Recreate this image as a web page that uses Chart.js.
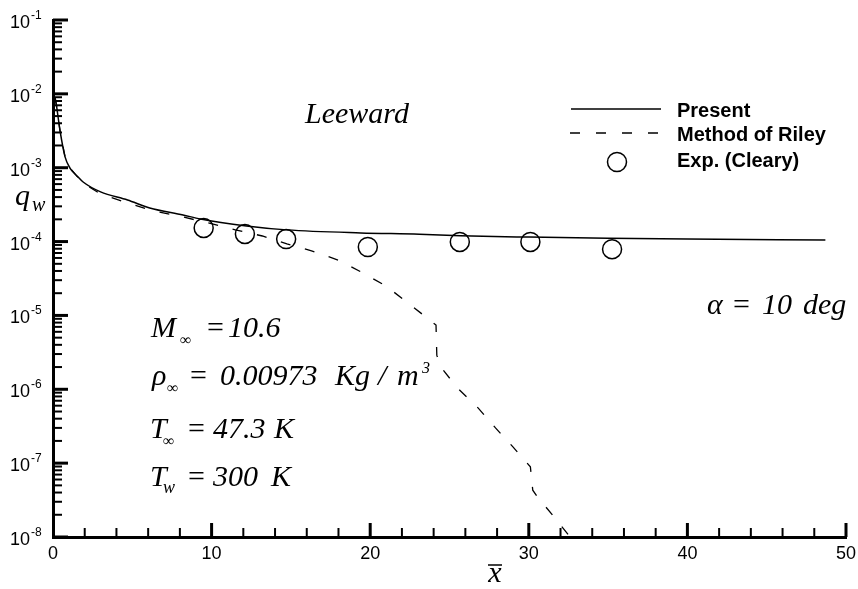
<!DOCTYPE html>
<html>
<head>
<meta charset="utf-8">
<script src="https://cdn.jsdelivr.net/npm/chart.js@4/dist/chart.umd.min.js"></script>
<style>
  html, body { margin: 0; padding: 0; background: #fff; }
  #wrap { width: 858px; height: 589px; }
</style>
</head>
<body>
<div id="wrap"><canvas id="c" width="858" height="589"></canvas></div>
<script>
// heat flux on the leeward side, alpha = 10 deg
var presentX = [0.12, 0.2, 0.44, 0.76, 1.07, 1.5, 1.9, 3.0, 4.7, 6.1, 8.2, 9.3, 12.2, 14.75, 19.4, 23.1, 25.7, 30, 35, 40, 48.7];
var presentY = [9.0e-3, 7.4e-3, 3.2e-3, 1.4e-3, 9.9e-4, 7.8e-4, 6.4e-4, 4.7e-4, 3.65e-4, 2.85e-4, 2.29e-4, 2.02e-4, 1.63e-4, 1.44e-4, 1.31e-4, 1.26e-4, 1.2e-4, 1.15e-4, 1.11e-4, 1.08e-4, 1.05e-4];

var rileyX = [0.12, 0.2, 0.44, 0.76, 1.07, 1.5, 1.9, 3.0, 4.7, 6.1, 8.2, 9.8, 11.5, 13.2, 14.75, 16.3, 18.0, 19.5, 21.0, 22.3, 23.6, 24.15, 24.2, 24.45, 25.5, 26.8, 27.9, 29.0, 30.1, 30.25, 30.5, 31.7, 32.6, 33.0];
var rileyY = [9.0e-3, 7.4e-3, 3.2e-3, 1.4e-3, 9.9e-4, 7.7e-4, 6.2e-4, 4.4e-4, 3.33e-4, 2.68e-4, 2.15e-4, 1.79e-4, 1.44e-4, 1.19e-4, 9.3e-5, 7.5e-5, 5.6e-5, 3.8e-5, 2.5e-5, 1.52e-5, 9.2e-6, 7.4e-6, 2.9e-6, 2.0e-6, 1.04e-6, 5.6e-7, 3.0e-7, 1.66e-7, 8.9e-8, 4.3e-8, 3.6e-8, 1.75e-8, 1.0e-8, 7.8e-9];

var expX = [9.5, 12.1, 14.7, 19.85, 25.65, 30.1, 35.25];
var expY = [1.53e-4, 1.27e-4, 1.08e-4, 8.45e-5, 9.9e-5, 9.9e-5, 7.9e-5];

var xTicks = [0, 10, 20, 30, 40, 50];
var yExponents = [-1, -2, -3, -4, -5, -6, -7, -8];
var legendLabels = ["Present", "Method of Riley", "Exp. (Cleary)"];

var SERIF = '"Times New Roman", "Liberation Serif", serif';
var SANS = 'Arial, "Liberation Sans", sans-serif';

function pts(xs, ys) {
    return xs.map(function (x, i) { return { x: x, y: ys[i] }; });
}

function line(ctx, x1, y1, x2, y2) {
    ctx.beginPath();
    ctx.moveTo(x1, y1);
    ctx.lineTo(x2, y2);
    ctx.stroke();
}

function txt(ctx, s, x, y, font) {
    ctx.font = font;
    ctx.fillText(s, x, y);
}

var decorPlugin = {
    id: "decor",
    afterDraw: function (chart) {
        var ctx = chart.ctx, a = chart.chartArea;
        var xs = chart.scales.x, ys = chart.scales.y;
        ctx.save();
        ctx.strokeStyle = "#000";
        ctx.fillStyle = "#000";
        ctx.setLineDash([]);

        // ticks pointing into the plot
        for (var e = -8; e <= -1; e++) {
            for (var m = 1; m <= 9; m++) {
                if (e === -1 && m > 1) break;
                var py = ys.getPixelForValue(m * Math.pow(10, e));
                var major = m === 1;
                ctx.lineWidth = major ? 3 : 2;
                line(ctx, a.left, py, a.left + (major ? 15 : 9), py);
            }
        }
        for (var v = 2; v <= 50; v += 2) {
            var px = xs.getPixelForValue(v);
            var maj = v % 10 === 0;
            ctx.lineWidth = maj ? 3 : 2;
            line(ctx, px, a.bottom, px, a.bottom - (maj ? 14 : 9));
        }

        // tick labels
        ctx.textBaseline = "alphabetic";
        yExponents.forEach(function (ex) {
            var py = ys.getPixelForValue(Math.pow(10, ex));
            ctx.textAlign = "left";
            txt(ctx, "10", 10, py + 8, "18px " + SANS);
            var w = ctx.measureText("10").width;
            txt(ctx, String(ex), 10 + w + 1, py - 1, "12px " + SANS);
        });
        ctx.textAlign = "center";
        xTicks.forEach(function (t) {
            txt(ctx, String(t), xs.getPixelForValue(t), 559, "18px " + SANS);
        });

        // axis titles
        ctx.textAlign = "left";
        txt(ctx, "q", 15, 205, "italic 30px " + SERIF);
        txt(ctx, "w", 32, 211, "italic 20px " + SERIF);
        ctx.textAlign = "center";
        txt(ctx, "x", 495, 582, "italic 30px " + SERIF);
        ctx.lineWidth = 1.5;
        line(ctx, 488, 565, 502, 565);

        // annotations
        ctx.textAlign = "left";
        var f30 = "italic 30px " + SERIF;
        txt(ctx, "Leeward", 305, 123, f30);

        txt(ctx, "M", 151, 337, f30);
        txt(ctx, "\u221e", 180, 345, "16px " + SERIF);
        txt(ctx, "=", 207, 337, "30px " + SERIF);
        txt(ctx, "10.6", 228, 337, f30);

        txt(ctx, "\u03c1", 152, 385, f30);
        txt(ctx, "\u221e", 167, 393, "16px " + SERIF);
        txt(ctx, "=", 190, 385, "30px " + SERIF);
        txt(ctx, "0.00973", 220, 385, f30);
        txt(ctx, "Kg", 335, 385, f30);
        txt(ctx, "/", 378, 385, f30);
        txt(ctx, "m", 397, 385, f30);
        txt(ctx, "3", 422, 373, "italic 16px " + SERIF);

        txt(ctx, "T", 150, 438, f30);
        txt(ctx, "\u221e", 163, 446, "16px " + SERIF);
        txt(ctx, "=", 188, 438, "30px " + SERIF);
        txt(ctx, "47.3", 213, 438, f30);
        txt(ctx, "K", 274, 438, f30);

        txt(ctx, "T", 150, 486, f30);
        txt(ctx, "w", 163, 493, "italic 18px " + SERIF);
        txt(ctx, "=", 188, 486, "30px " + SERIF);
        txt(ctx, "300", 213, 486, f30);
        txt(ctx, "K", 271, 486, f30);

        txt(ctx, "\u03b1", 707, 314, f30);
        txt(ctx, "=", 733, 314, "30px " + SERIF);
        txt(ctx, "10", 762, 314, f30);
        txt(ctx, "deg", 803, 314, f30);

        // legend
        ctx.lineWidth = 1.5;
        line(ctx, 571, 109, 661, 109);
        ctx.lineWidth = 1.3;
        ctx.setLineDash([10, 16]);
        line(ctx, 570, 133, 661, 133);
        ctx.setLineDash([]);
        ctx.lineWidth = 1.5;
        ctx.beginPath();
        ctx.arc(617, 162, 9.5, 0, Math.PI * 2);
        ctx.stroke();
        var lf = "bold 20px " + SANS;
        txt(ctx, legendLabels[0], 677, 117, lf);
        txt(ctx, legendLabels[1], 677, 141, lf);
        txt(ctx, legendLabels[2], 677, 167, lf);

        ctx.restore();
    }
};

new Chart(document.getElementById("c").getContext("2d"), {
    type: "scatter",
    data: {
        datasets: [{
            label: legendLabels[0],
            data: pts(presentX, presentY),
            showLine: true,
            borderColor: "#000",
            borderWidth: 1.5,
            pointRadius: 0,
            pointHoverRadius: 0,
            cubicInterpolationMode: "monotone"
        }, {
            label: legendLabels[1],
            data: pts(rileyX, rileyY),
            showLine: true,
            borderColor: "#000",
            borderWidth: 1.3,
            borderDash: [10, 15],
            pointRadius: 0,
            pointHoverRadius: 0
        }, {
            label: legendLabels[2],
            data: pts(expX, expY),
            showLine: false,
            borderColor: "#000",
            backgroundColor: "rgba(0,0,0,0)",
            pointRadius: 9.5,
            pointHoverRadius: 9.5,
            pointBorderWidth: 1.5
        }]
    },
    options: {
        responsive: false,
        animation: false,
        events: [],
        layout: { padding: { top: 20, right: 12, left: 0, bottom: 0 } },
        plugins: { legend: { display: false }, tooltip: { enabled: false } },
        scales: {
            x: {
                type: "linear",
                min: 0,
                max: 50,
                grid: { display: false, drawTicks: false },
                border: { display: true, color: "#000", width: 3 },
                ticks: { display: false },
                afterFit: function (s) { s.height = 52; }
            },
            y: {
                type: "logarithmic",
                min: 1e-8,
                max: 1e-1,
                grid: { display: false, drawTicks: false },
                border: { display: true, color: "#000", width: 3 },
                ticks: { display: false },
                afterFit: function (s) { s.width = 53; }
            }
        }
    },
    plugins: [decorPlugin]
});
</script>
</body>
</html>
